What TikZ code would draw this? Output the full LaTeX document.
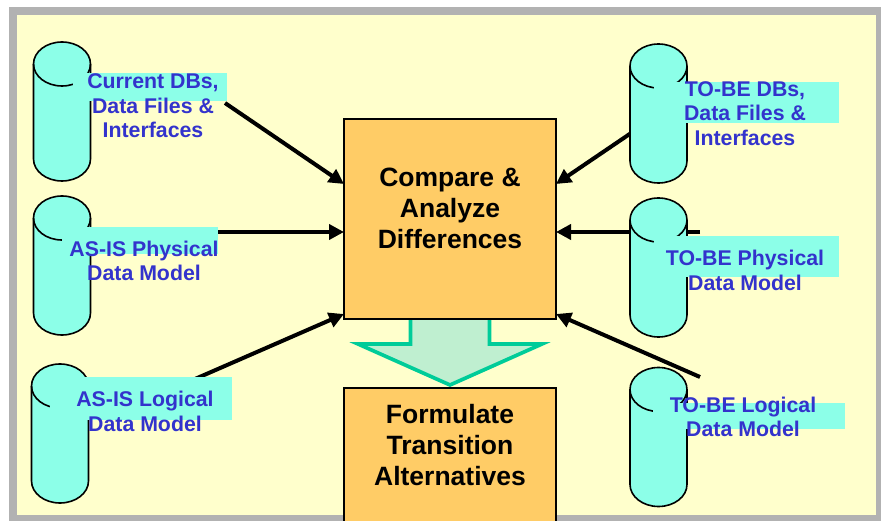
\documentclass[tikz,border=0pt]{standalone}
\usepackage{fontspec}
\setmainfont{Liberation Sans}
\usepackage{tikz}
\usetikzlibrary{arrows.meta}
\definecolor{framegray}{HTML}{B2B2B2}
\definecolor{paleyellow}{HTML}{FFFFCC}
\definecolor{tankcyan}{HTML}{8CFFE8}
\definecolor{boxorange}{HTML}{FFCC66}
\definecolor{labelblue}{HTML}{3333CC}
\definecolor{blockgreen}{HTML}{00CC99}
\definecolor{blockfill}{HTML}{BFEFD0}
\tikzset{
    tank/.pic={
        \path[fill=tankcyan,draw=black,line width=1.6pt] (-28.5,-47.5) -- (-28.5,47.5)
            arc[start angle=180,end angle=360,x radius=28.5pt,y radius=22pt] -- (28.5,-47.5)
            arc[start angle=0,end angle=180,x radius=28.5pt,y radius=22pt] -- cycle;
        \draw[line width=1.6pt] (-28.5,-47.5) arc[start angle=180,end angle=360,x radius=28.5pt,y radius=22pt];
    },
    patch/.style={fill=tankcyan,anchor=north west,inner sep=0pt,outer sep=0pt},
    tanklabel/.style={text=labelblue,font=\fontsize{21.3}{24.5}\selectfont\bfseries,align=center},
    stepbox/.style={draw=black,line width=1.5pt,fill=boxorange,inner sep=0pt,outer sep=0pt,minimum width=212},
    steplabel/.style={font=\fontsize{26.5}{31}\selectfont\bfseries,align=center},
    link/.style={line width=4pt,-{Triangle[length=15pt,width=15pt]}},
}
\begin{document}
\begin{tikzpicture}[x=1pt,y=-1pt]
    \useasboundingbox (0,0) rectangle (881,521);
    \clip (0,0) rectangle (881,521);
    \fill[framegray] (9,7) rectangle (881,521);
    \fill[paleyellow] (17,15) rectangle (876,515);
    %green block
    \draw[blockgreen,fill=blockfill,line width=3.7pt,miter limit=10] (410.5,318) -- (410.5,344) -- (358,344) -- (450,385) -- (542,344) -- (489.5,344) -- (489.5,318);
    %boxes
    \node[stepbox,minimum height=200] (compare) at (450,219) {};
    \node[stepbox,minimum height=140,anchor=north] (formulate) at (450,388) {};
    \node[steplabel] (comparelabel) at (450,208) {Compare \&\\Analyze\\Differences};
    \node[steplabel] (formulatelabel) at (450,445) {Formulate\\Transition\\Alternatives};
    %arrow ends
    \coordinate (currentend) at (225,103);
    \coordinate (asisend) at (210,232);
    \coordinate (logicalend) at (195,379);
    \coordinate (tobeend) at (640,127);
    \coordinate (tobephysend) at (700,232);
    \coordinate (tobelogend) at (700,377);
    \draw[link] (currentend) -- ([yshift=35pt]compare.west);
    \draw[link] (asisend) -- ([yshift=-13pt]compare.west);
    \draw[link] (logicalend) -- ([yshift=-95pt]compare.west);
    \draw[link] (tobeend) -- ([yshift=35pt]compare.east);
    \draw[link] (tobephysend) -- ([yshift=-13pt]compare.east);
    \draw[link] (tobelogend) -- ([yshift=-95pt]compare.east);
    %tanks
    \pic at (62,111.5) {tank};
    \pic at (62,265.5) {tank};
    \pic at (60,433.5) {tank};
    \pic at (658.5,113.5) {tank};
    \pic at (658.5,267.5) {tank};
    \pic at (658.5,437) {tank};
    %patches behind the labels
    \node[patch,minimum width=154,minimum height=28] (currentpatch) at (73,73) {};
    \node[patch,minimum width=156,minimum height=27] (asispatch) at (62,227) {};
    \node[patch,minimum width=182,minimum height=43] (logicalpatch) at (50,377) {};
    \node[patch,minimum width=185,minimum height=41] (tobepatch) at (654,82) {};
    \node[patch,minimum width=185,minimum height=41] (tobephyspatch) at (654,236) {};
    \node[patch,minimum width=192,minimum height=26] (tobelogpatch) at (653,403) {};
    %labels
    \node[tanklabel] (currentlabel) at (153,106) {Current DBs,\\Data Files \&\\Interfaces};
    \node[tanklabel] (asislabel) at (144,261) {AS-IS Physical\\Data Model};
    \node[tanklabel] (logicallabel) at (145,411.5) {AS-IS Logical\\Data Model};
    \node[tanklabel] (tobelabel) at (745,113.5) {TO-BE DBs,\\Data Files \&\\Interfaces};
    \node[tanklabel] (tobephyslabel) at (745,270.5) {TO-BE Physical\\Data Model};
    \node[tanklabel] (tobeloglabel) at (743,417) {TO-BE Logical\\Data Model};
\end{tikzpicture}
\end{document}
